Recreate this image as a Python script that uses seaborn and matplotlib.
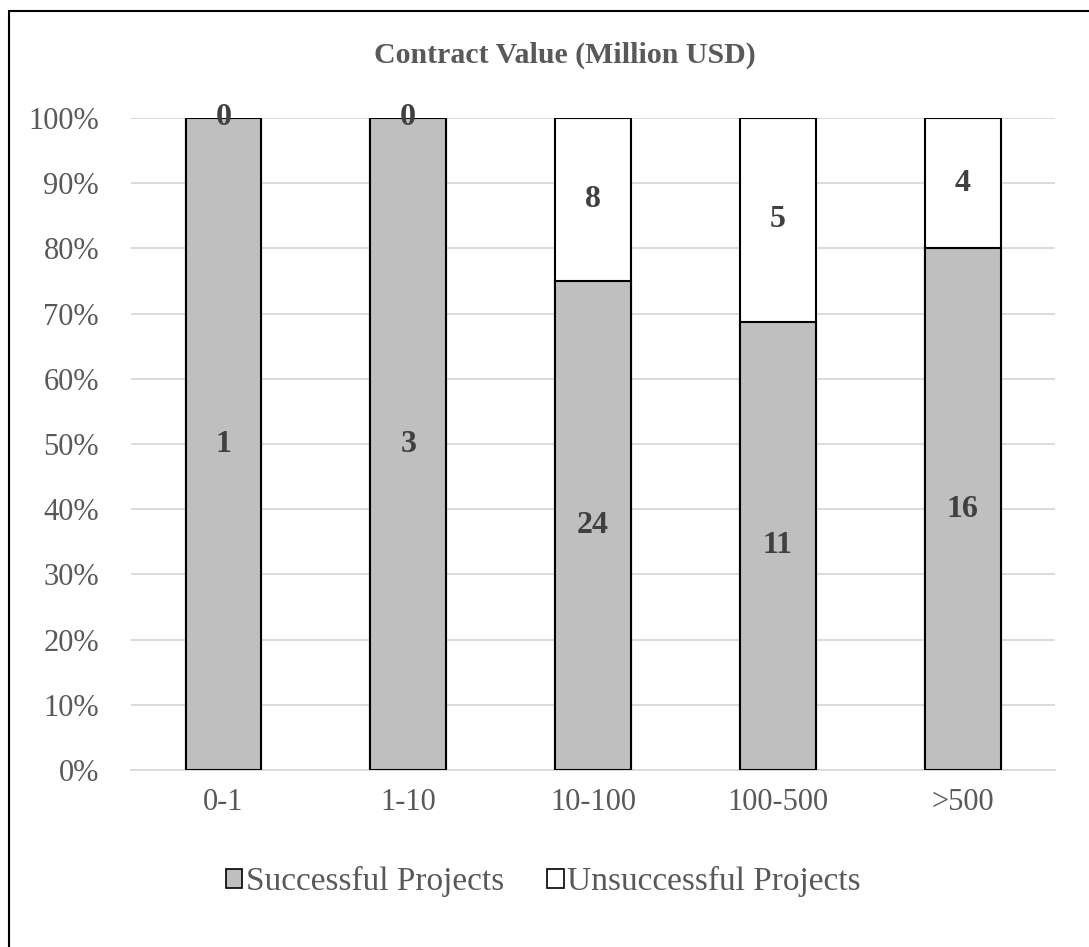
import matplotlib.pyplot as plt
import pandas as pd
import seaborn as sns
from matplotlib.patches import Patch, Rectangle

categories = ["0-1", "1-10", "10-100", "100-500", ">500"]
successful = [1, 3, 24, 11, 16]
unsuccessful = [0, 0, 8, 5, 4]

df = pd.DataFrame({"Category": categories, "Successful": successful, "Unsuccessful": unsuccessful})
df["Total"] = df["Successful"] + df["Unsuccessful"]
df["SuccessShare"] = df["Successful"] / df["Total"]
df["TotalShare"] = 1.0

sns.set_style("white")
plt.rcParams["font.family"] = ["Liberation Serif", "DejaVu Serif"]

fig = plt.figure(figsize=(10.89, 9.47), dpi=100)
ax = fig.add_axes([0.1203, 0.1869, 0.8485, 0.6885])

sns.barplot(df, x="Category", y="TotalShare", color="white", edgecolor="black",
            linewidth=1.5, width=0.41, saturation=1, ax=ax, zorder=2)
sns.barplot(df, x="Category", y="SuccessShare", color="#BFBFBF", edgecolor="black",
            linewidth=1.5, width=0.41, saturation=1, ax=ax, zorder=3)

# labels: unsuccessful counts in the upper segment, successful in the lower
low_bars = ax.containers[1]
for bar, s, u in zip(low_bars, successful, unsuccessful):
    x = bar.get_x() + bar.get_width() / 2
    h = bar.get_height()
    ax.text(x, h / 2, str(s), ha="center", va="center", fontsize=23,
            fontweight="bold", color="#404040", zorder=5)
    ax.text(x, h + (1 - h) / 2, str(u), ha="center", va="center", fontsize=23,
            fontweight="bold", color="#404040", zorder=5)

ax.set_ylim(0, 1)
ax.set_xlim(-0.5, 4.5)
ax.set_yticks([i / 10 for i in range(11)])
ax.set_yticklabels([f"{i * 10}%" for i in range(11)])
ax.yaxis.grid(True, color="#D9D9D9", linewidth=1.3, zorder=0)
ax.set_axisbelow(True)
for side in ["top", "right", "left"]:
    ax.spines[side].set_visible(False)
ax.spines["bottom"].set_color("#D9D9D9")
ax.spines["bottom"].set_linewidth(1.3)
ax.tick_params(axis="both", labelsize=22, labelcolor="#595959", length=0)
ax.tick_params(axis="y", pad=23)
ax.tick_params(axis="x", pad=13)
ax.set_xlabel("")
ax.set_ylabel("")

fig.text(0.519, 0.942, "Contract Value (Million USD)", ha="center", va="center",
         fontsize=21.5, fontweight="bold", color="#595959")

handles = [Patch(facecolor="#BFBFBF", edgecolor="black", linewidth=1.2, label="Successful Projects"),
           Patch(facecolor="white", edgecolor="black", linewidth=1.2, label="Unsuccessful Projects")]
leg = fig.legend(handles=handles, loc="center", bbox_to_anchor=(0.499, 0.069), ncol=2,
                 frameon=False, fontsize=24, handlelength=0.5, handleheight=0.5,
                 handletextpad=0.1, columnspacing=1.3)
for t in leg.get_texts():
    t.set_color("#595959")

# outer chart border (only top and left edges fall inside the image)
fig.patches.append(Rectangle((9 / 1089, -0.1), 1.2, (947 - 11) / 947 + 0.1,
                             transform=fig.transFigure, fill=False,
                             edgecolor="black", linewidth=1.5))

fig.savefig("out.png", dpi=100)
